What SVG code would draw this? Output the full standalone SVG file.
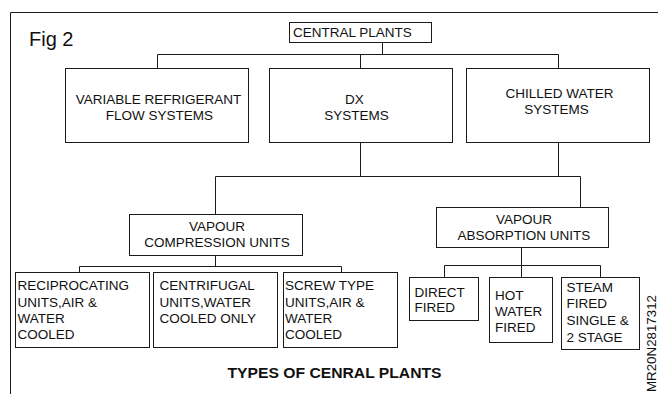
<svg xmlns="http://www.w3.org/2000/svg" width="658" height="394" viewBox="0 0 658 394">
<style>
.box{fill:#fff;stroke:#1a1a1a;stroke-width:1}
.ln{fill:none;stroke:#1a1a1a;stroke-width:1}
text{font-family:"Liberation Sans",Arial,sans-serif;font-size:13.5px;fill:#111}
.c{text-anchor:middle}
</style>
<rect width="658" height="394" fill="#fff"/>
<g id="frame">
<path class="ln" d="M10.5 394V12.5H658"/>
<text x="29" y="46" style="font-size:20px">Fig 2</text>
</g>
<g id="connectors">
<path class="ln" d="M382.5 42V54.5M157.5 68V54.5H558.5V68M360.5 54.5V68"/>
<path class="ln" d="M360.5 142V176.5M558.5 142V176.5M215.5 214V176.5H580.5V207"/>
<path class="ln" d="M215.5 255V266.5M79.5 272V266.5H341.5V272"/>
<path class="ln" d="M521.5 247V265.5M444.5 277V265.5H600.5V277M521.5 265.5V277"/>
</g>
<g id="central">
<rect class="box" x="289.5" y="22.5" width="142" height="20"/>
<text x="293" y="37">CENTRAL PLANTS</text>
</g>
<g id="vrf">
<rect class="box" x="65.5" y="68.5" width="183" height="74"/>
<text class="c" x="158.5" y="104">VARIABLE REFRIGERANT</text>
<text class="c" x="159.5" y="120">FLOW SYSTEMS</text>
</g>
<g id="dx">
<rect class="box" x="269.5" y="68.5" width="183" height="74"/>
<text class="c" x="354.5" y="104">DX</text>
<text class="c" x="356.5" y="120">SYSTEMS</text>
</g>
<g id="chilled">
<rect class="box" x="466.5" y="68.5" width="183" height="74"/>
<text class="c" x="559.5" y="98">CHILLED WATER</text>
<text class="c" x="556.5" y="114">SYSTEMS</text>
</g>
<g id="vcu">
<rect class="box" x="129.5" y="214.5" width="173" height="41"/>
<text class="c" x="217" y="231">VAPOUR</text>
<text class="c" x="217" y="247">COMPRESSION UNITS</text>
</g>
<g id="vau">
<rect class="box" x="436.5" y="207.5" width="172" height="40"/>
<text class="c" x="524" y="224">VAPOUR</text>
<text class="c" x="524" y="240">ABSORPTION UNITS</text>
</g>
<g id="recip">
<rect class="box" x="15.5" y="272.5" width="134" height="75"/>
<text x="17.5" y="290">RECIPROCATING</text>
<text x="17.5" y="306.5">UNITS,AIR &amp;</text>
<text x="17.5" y="322.5">WATER</text>
<text x="17.5" y="338.5">COOLED</text>
</g>
<g id="centrifugal">
<rect class="box" x="153.5" y="272.5" width="124" height="75"/>
<text x="159.5" y="290">CENTRIFUGAL</text>
<text x="159.5" y="306.5">UNITS,WATER</text>
<text x="159.5" y="322.5">COOLED ONLY</text>
</g>
<g id="screw">
<rect class="box" x="283.5" y="272.5" width="114" height="75"/>
<text x="285" y="290">SCREW TYPE</text>
<text x="285" y="306.5">UNITS,AIR &amp;</text>
<text x="285" y="322.5">WATER</text>
<text x="285" y="338.5">COOLED</text>
</g>
<g id="direct">
<rect class="box" x="409.5" y="277.5" width="69" height="43"/>
<text x="414.5" y="296.5">DIRECT</text>
<text x="414.5" y="311.5">FIRED</text>
</g>
<g id="hotwater">
<rect class="box" x="489.5" y="277.5" width="63" height="65"/>
<text x="495" y="300">HOT</text>
<text x="495" y="316">WATER</text>
<text x="495" y="331.5">FIRED</text>
</g>
<g id="steam">
<rect class="box" x="561.5" y="277.5" width="78" height="72"/>
<text x="566.5" y="291.5">STEAM</text>
<text x="566.5" y="308">FIRED</text>
<text x="566.5" y="325">SINGLE &amp;</text>
<text x="566.5" y="341.5">2 STAGE</text>
</g>
<g id="caption">
<text x="227.5" y="377.5" style="font-size:14.5px;font-weight:bold" textLength="214" lengthAdjust="spacingAndGlyphs">TYPES OF CENRAL PLANTS</text>
<text transform="translate(655.5 392) rotate(-90)" style="font-size:12.5px" textLength="97" lengthAdjust="spacingAndGlyphs">MR20N2817312</text>
</g>
</svg>
